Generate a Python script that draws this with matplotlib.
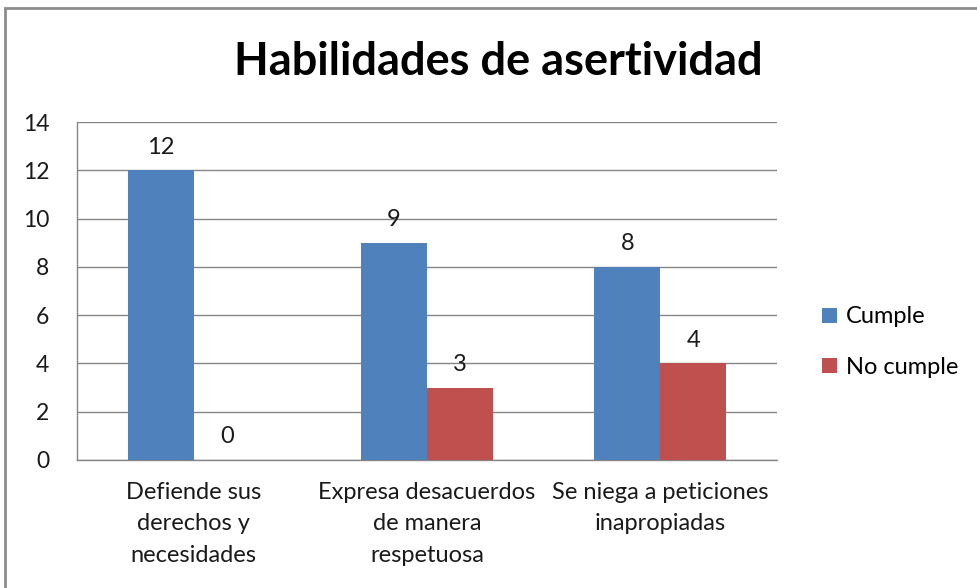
import matplotlib
matplotlib.use("Agg")
import matplotlib.pyplot as plt
import numpy as np
from matplotlib.patches import Rectangle

categories = ["Defiende sus\nderechos y\nnecesidades",
              "Expresa desacuerdos\nde manera\nrespetuosa",
              "Se niega a peticiones\ninapropiadas"]
cumple = [12, 9, 8]
no_cumple = [0, 3, 4]

plt.rcParams['font.family'] = ['Lato', 'DejaVu Sans']
FS = 17

fig = plt.figure(figsize=(9.77, 5.88), dpi=100)
ax = fig.add_axes([0.0788, 0.2177, 0.7165, 0.5748])

x = np.arange(len(categories))
w = 0.283
b1 = ax.bar(x - w / 2, cumple, w, color='#4F81BD', label='Cumple', zorder=3)
b2 = ax.bar(x + w / 2, no_cumple, w, color='#C0504D', label='No cumple', zorder=3)

# data labels above bars
for bars in (b1, b2):
    for rect in bars:
        h = rect.get_height()
        ax.annotate(f"{h:g}", (rect.get_x() + rect.get_width() / 2, h),
                    xytext=(0, 9), textcoords='offset points',
                    ha='center', va='bottom', fontsize=FS, color='#1a1a1a')

ax.set_xlim(-0.5, 2.5)
ax.set_ylim(0, 14)
ax.set_yticks(range(0, 15, 2))
ax.yaxis.grid(True, color='#868686', linewidth=1)
ax.set_axisbelow(True)

ax.set_xticks(x)
ax.set_xticklabels(categories, fontsize=FS, linespacing=1.6, color='#1a1a1a')
ax.tick_params(axis='x', length=0, pad=16)
ax.tick_params(axis='y', length=0, pad=20, labelsize=16.5, labelcolor='#1a1a1a')

for s in ('top', 'right'):
    ax.spines[s].set_visible(False)
for s in ('left', 'bottom'):
    ax.spines[s].set_color('#868686')
    ax.spines[s].set_linewidth(1)

fig.text(0.51, 0.895, "Habilidades de asertividad", ha='center', va='center',
         fontsize=32.5, fontweight='bold', color='black')

fig.legend(handles=[b1, b2], loc='center left', bbox_to_anchor=(0.82, 0.418),
           frameon=False, fontsize=FS, handlelength=0.6, handleheight=0.6,
           handletextpad=0.4, labelspacing=1.25)

# outer chart border
fig.patches.append(Rectangle((5 / 977, -0.1), 1.2, 1 - 8 / 588 + 0.1,
                             transform=fig.transFigure, fill=False,
                             edgecolor='#8c8c8c', linewidth=2))

fig.savefig("out.png", dpi=100)
